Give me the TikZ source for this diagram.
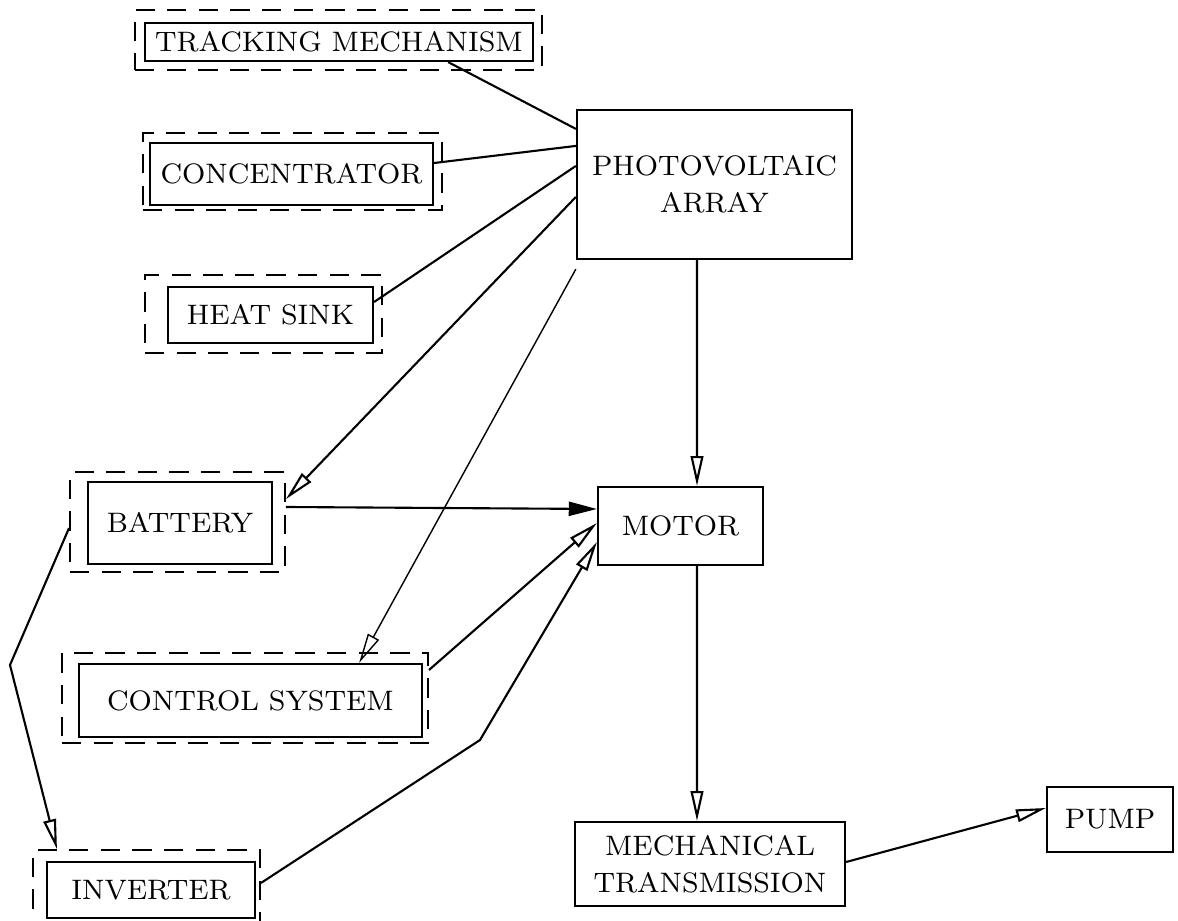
\documentclass[tikz,border=0pt]{standalone}
\usetikzlibrary{arrows.meta}

\tikzset{
  unit/.style={draw, line width=0.6pt, align=center, inner sep=0pt,
    font=\fontsize{8}{10.5}\selectfont},
  shell/.style={draw, line width=0.5pt, dash pattern=on 5.5pt off 3.5pt, inner sep=0pt},
  link/.style={line width=0.6pt},
  feed/.style={line width=0.6pt, -{Triangle[open, length=8.5pt, width=3.6pt]}},
  push/.style={line width=0.6pt, -{Triangle[length=8pt, width=4pt]}},
}

\begin{document}
\begin{tikzpicture}[x=0.01cm, y=-0.01cm]
\useasboundingbox (0,0) rectangle (1178,921);

\node[unit, minimum width=3.88cm, minimum height=0.38cm] (track) at (339,42) {TRACKING MECHANISM};
\node[shell, minimum width=4.07cm, minimum height=0.60cm] (trackout) at (338.5,40) {};
\node[unit, minimum width=2.83cm, minimum height=0.62cm] (conc) at (291.5,174) {CONCENTRATOR};
\node[shell, minimum width=2.99cm, minimum height=0.77cm] (concout) at (292.5,171.5) {};
\node[unit, minimum width=2.05cm, minimum height=0.56cm] (heat) at (270.5,315) {HEAT SINK};
\node[shell, minimum width=2.37cm, minimum height=0.78cm] (heatout) at (263.5,314) {};
\node[unit, minimum width=2.75cm, minimum height=1.49cm] (pv) at (714.5,184.5) {PHOTOVOLTAIC\\ARRAY};
\node[unit, minimum width=1.84cm, minimum height=0.82cm] (batt) at (180,523) {BATTERY};
\node[shell, minimum width=2.15cm, minimum height=1.00cm] (battout) at (177.5,522) {};
\node[unit, minimum width=1.65cm, minimum height=0.78cm] (motor) at (680.5,526) {MOTOR};
\node[unit, minimum width=3.43cm, minimum height=0.73cm] (ctrl) at (250.5,700.5) {CONTROL SYSTEM};
\node[shell, minimum width=3.66cm, minimum height=0.90cm] (ctrlout) at (245,698) {};
\node[unit, minimum width=2.08cm, minimum height=0.56cm] (inv) at (151,890) {INVERTER};
\node[shell, minimum width=2.27cm, minimum height=0.76cm] (invout) at (146.5,888) {};
\node[unit, minimum width=2.70cm, minimum height=0.84cm] (trans) at (710,864) {MECHANICAL\\TRANSMISSION};
\node[unit, minimum width=1.26cm, minimum height=0.65cm] (pump) at (1110,819.5) {PUMP};

\coordinate (kink) at (480,740);
\coordinate (bend) at (10,665);

\draw[link] ([xshift=-0.86cm]track.south east) -- ([yshift=-0.20cm]pv.north west);
\draw[link] ([yshift=0.11cm]conc.east) -- ([yshift=-0.37cm]pv.north west);
\draw[link] ([yshift=0.13cm]heat.east) -- ([yshift=-0.57cm]pv.north west);
\draw[feed] ([yshift=-0.88cm]pv.north west) -- ([yshift=-0.28cm]battout.north east);
\draw[feed, line width=0.4pt] ([yshift=-0.09cm]pv.south west) -- ([xshift=-0.64cm]ctrl.north east);
\draw[feed] ([xshift=-0.175cm]pv.south) -- ([xshift=0.165cm]motor.north);
\draw[push] ([yshift=0.15cm]battout.east) -- ([yshift=0.17cm]motor.west);
\draw[feed] ([yshift=0.28cm]ctrlout.east) -- ([yshift=0.03cm]motor.west);
\draw[feed] ([yshift=0.05cm]invout.east) -- (kink) -- ([yshift=-0.16cm]motor.west);
\draw[feed] ([yshift=-0.06cm]battout.west) -- (bend) -- ([xshift=-0.895cm]invout.north);
\draw[feed] ([xshift=0.165cm]motor.south) -- ([xshift=-0.13cm]trans.north);
\draw[feed] ([yshift=0.02cm]trans.east) -- ([yshift=0.115cm]pump.west);
\end{tikzpicture}
\end{document}
